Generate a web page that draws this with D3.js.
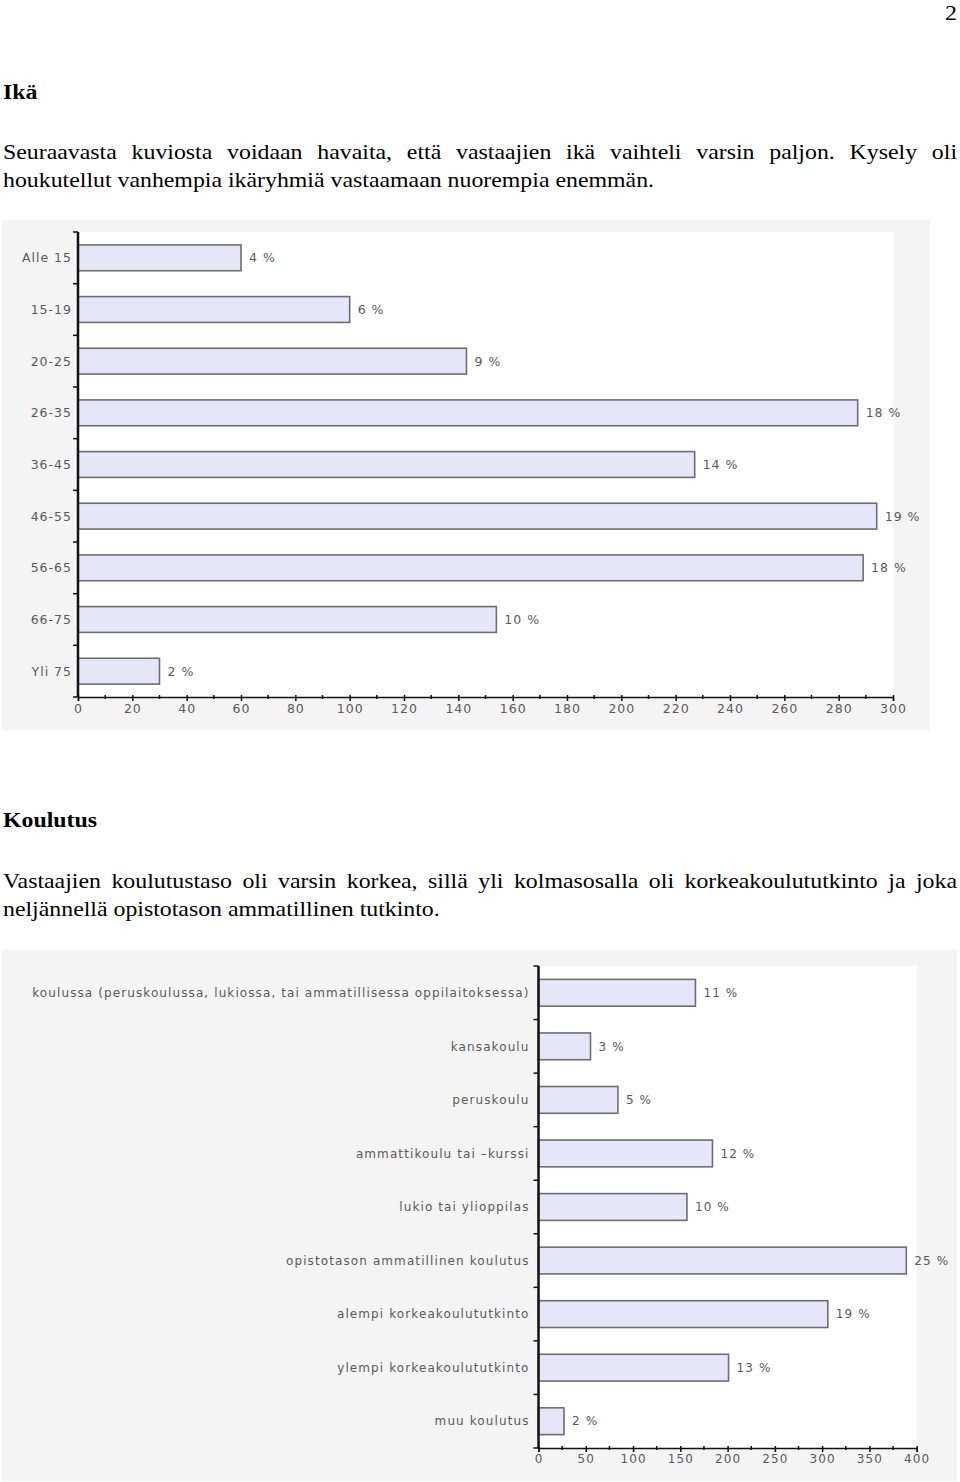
<!DOCTYPE html>
<html>
<head>
<meta charset="utf-8">
<script src="https://cdn.jsdelivr.net/npm/d3@7"></script>
<style>
  html, body { margin: 0; padding: 0; background: #fff; }
  svg { display: block; }
</style>
</head>
<body>
<script>
// ---------- DATA ----------
const ageCategories = ["Alle 15", "15-19", "20-25", "26-35", "36-45", "46-55", "56-65", "66-75", "Yli 75"];
const ageCounts = [60, 100, 143, 287, 227, 294, 289, 154, 30];
const agePercents = [4, 6, 9, 18, 14, 19, 18, 10, 2];
const ageTicks = [0, 20, 40, 60, 80, 100, 120, 140, 160, 180, 200, 220, 240, 260, 280, 300];

const eduCategories = [
  "koulussa (peruskoulussa, lukiossa, tai ammatillisessa oppilaitoksessa)",
  "kansakoulu",
  "peruskoulu",
  "ammattikoulu tai \u2013kurssi",
  "lukio tai ylioppilas",
  "opistotason ammatillinen koulutus",
  "alempi korkeakoulututkinto",
  "ylempi korkeakoulututkinto",
  "muu koulutus"
];
const eduCounts = [166, 55, 84, 184, 157, 389, 306, 201, 27];
const eduPercents = [11, 3, 5, 12, 10, 25, 19, 13, 2];
const eduTicks = [0, 50, 100, 150, 200, 250, 300, 350, 400];

// ---------- SVG ----------
const W = 960, H = 1482;
const svg = d3.select("body").append("svg").attr("width", W).attr("height", H);

const serif = "'Liberation Serif', 'Times New Roman', serif";
const sans = "'DejaVu Sans', Verdana, sans-serif";
const SX = 1.135; // horizontal stretch of the document text

function textLine(x, y, str, opts = {}) {
  const sx = opts.noScale ? 1 : SX;
  const g = svg.append("g").attr("transform", `translate(${x},${y}) scale(${sx},1)`);
  const t = g.append("text")
    .attr("x", 0).attr("y", 0)
    .attr("font-family", serif)
    .attr("font-size", opts.size || 21)
    .attr("font-weight", opts.bold ? "bold" : "normal")
    .attr("fill", "#000")
    .attr("text-anchor", opts.anchor || "start")
    .text(str);
  if (opts.justify) {
    const natural = t.node().getComputedTextLength();
    const spaces = (str.match(/ /g) || []).length;
    const extra = (opts.justify / sx - natural) / spaces;
    t.style("word-spacing", extra + "px");
  }
  return t;
}

textLine(957, 20, "2", { anchor: "end" });
textLine(3, 99, "Ikä", { bold: true });
textLine(3, 159, "Seuraavasta kuviosta voidaan havaita, että vastaajien ikä vaihteli varsin paljon. Kysely oli", { justify: 954 });
textLine(3, 187, "houkutellut vanhempia  ikäryhmiä vastaamaan nuorempia enemmän.");
textLine(3, 827, "Koulutus", { bold: true });
textLine(3, 888, "Vastaajien koulutustaso oli varsin korkea, sillä yli kolmasosalla oli korkeakoulututkinto ja joka", { justify: 954 });
textLine(3, 916, "neljännellä opistotason ammatillinen tutkinto.");

// ---------- CHART FUNCTION ----------
function barChart(cfg) {
  const g = svg.append("g");
  g.append("rect")
    .attr("x", cfg.panel[0]).attr("y", cfg.panel[1])
    .attr("width", cfg.panel[2] - cfg.panel[0]).attr("height", cfg.panel[3] - cfg.panel[1])
    .attr("fill", "#f4f4f4");

  const x = d3.scaleLinear().domain([0, cfg.max]).range([cfg.left, cfg.right]);
  const y = d3.scaleBand().domain(cfg.categories).range([cfg.top, cfg.bottom]).paddingInner(0.5).paddingOuter(0.25);

  g.append("rect")
    .attr("x", cfg.left).attr("y", cfg.top)
    .attr("width", cfg.right - cfg.left).attr("height", cfg.bottom - cfg.top)
    .attr("fill", "#fff");

  g.selectAll(".bar").data(cfg.categories).join("rect")
    .attr("x", x(0))
    .attr("y", d => y(d))
    .attr("width", (d, i) => x(cfg.values[i]) - x(0))
    .attr("height", y.bandwidth())
    .attr("fill", "#e6e6f8")
    .attr("stroke", "#6e6e6e")
    .attr("stroke-width", 1.6);

  const fontAttrs = sel => sel
    .attr("font-family", sans)
    .attr("font-size", cfg.fontSize)
    .attr("letter-spacing", cfg.spacing + "px")
    .attr("fill", "#5a5a5a");

  g.selectAll(".val").data(cfg.categories).join("text")
    .attr("x", (d, i) => x(cfg.values[i]) + 8)
    .attr("y", d => y(d) + y.bandwidth() / 2)
    .attr("dy", "0.35em")
    .call(fontAttrs)
    .text((d, i) => cfg.percents[i] + " %");

  g.selectAll(".cat").data(cfg.categories).join("text")
    .attr("x", cfg.left - cfg.labelGap)
    .attr("y", d => y(d) + y.bandwidth() / 2)
    .attr("dy", "0.35em")
    .attr("text-anchor", "end")
    .call(fontAttrs)
    .text(d => d);

  const step = (cfg.bottom - cfg.top) / cfg.categories.length;
  const bounds = d3.range(cfg.categories.length + 1).map(i => cfg.top + i * step);
  g.selectAll(".ytick").data(bounds).join("line")
    .attr("x1", cfg.left - 5).attr("x2", cfg.left)
    .attr("y1", d => d).attr("y2", d => d)
    .attr("stroke", "#111").attr("stroke-width", 1.5);
  g.append("line")
    .attr("x1", cfg.left).attr("x2", cfg.left)
    .attr("y1", cfg.top).attr("y2", cfg.bottom)
    .attr("stroke", "#111").attr("stroke-width", 2.5);

  const xAxis = d3.axisBottom(x).tickValues(cfg.ticks).tickSize(4).tickFormat(d3.format("d"));
  const ax = g.append("g").attr("transform", `translate(0,${cfg.bottom})`).call(xAxis);
  ax.select(".domain").attr("stroke", "#111").attr("stroke-width", 1.5);
  ax.selectAll(".tick line").attr("stroke", "#111").attr("stroke-width", 1.5).attr("y1", -2);
  ax.selectAll(".tick text")
    .call(fontAttrs)
    .attr("dy", "0.35em").attr("y", cfg.tickLabelOffset);
  const minor = d3.range(0, cfg.ticks.length - 1).map(i => (cfg.ticks[i] + cfg.ticks[i + 1]) / 2);
  g.selectAll(".minor").data(minor).join("line")
    .attr("x1", d => x(d)).attr("x2", d => x(d))
    .attr("y1", cfg.bottom - 2).attr("y2", cfg.bottom + 2)
    .attr("stroke", "#111").attr("stroke-width", 1.5);
}

barChart({
  panel: [2, 220, 930, 730],
  left: 78, right: 893, top: 232, bottom: 697,
  max: 300,
  categories: ageCategories, values: ageCounts, percents: agePercents, ticks: ageTicks,
  labelGap: 6, fontSize: 12.5, spacing: 1, tickLabelOffset: 12
});

barChart({
  panel: [2, 950, 957, 1481],
  left: 538.5, right: 916.7, top: 966, bottom: 1448,
  max: 400,
  categories: eduCategories, values: eduCounts, percents: eduPercents, ticks: eduTicks,
  labelGap: 9, fontSize: 12, spacing: 1.1, tickLabelOffset: 11
});
</script>
</body>
</html>
